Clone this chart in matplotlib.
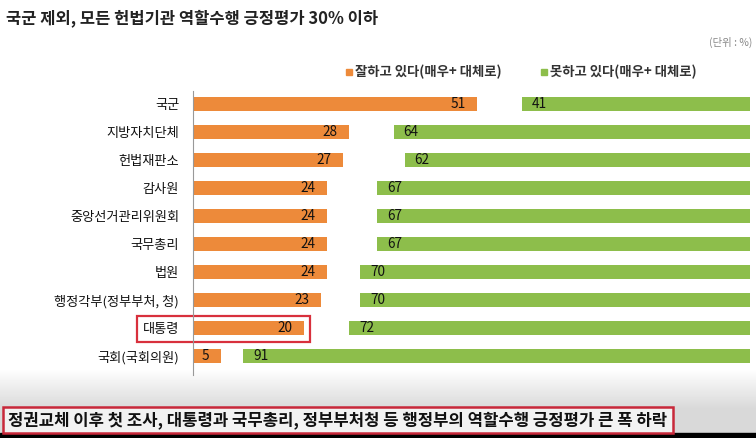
import numpy as np
import matplotlib.pyplot as plt
from matplotlib.patches import Rectangle

plt.rcParams['font.family'] = ['Noto Sans CJK KR', 'DejaVu Sans']

categories = ['국군', '지방자치단체', '헌법재판소', '감사원', '중앙선거관리위원회',
              '국무총리', '법원', '행정각부(정부부처, 청)', '대통령', '국회(국회의원)']
good = [51, 28, 27, 24, 24, 24, 24, 23, 20, 5]
bad = [41, 64, 62, 67, 67, 67, 70, 70, 72, 91]
good_label = '잘하고 있다(매우+ 대체로)'
bad_label = '못하고 있다(매우+ 대체로)'
title = '국군 제외, 모든 헌법기관 역할수행 긍정평가 30% 이하'
caption = '정권교체 이후 첫 조사, 대통령과 국무총리, 정부부처청 등 행정부의 역할수행 긍정평가 큰 폭 하락'

W, H = 756, 438
orange = '#ED8A3A'
green = '#8DBE4B'

fig = plt.figure(figsize=(W / 100, H / 100), dpi=100)

# background with grey fade at the bottom
bg = fig.add_axes([0, 0, 1, 1])
grad = np.ones((H, 1))
fade = np.clip((np.arange(H) - 368) / (408 - 368), 0, 1)
grad[:, 0] = 1 - 0.15 * fade
bg.imshow(grad, cmap='gray', vmin=0, vmax=1, aspect='auto', extent=[0, W, H, 0])
bg.set_xlim(0, W)
bg.set_ylim(H, 0)
bg.axis('off')
bg.add_patch(Rectangle((0, 433), W, 6, color='black', zorder=2))
bg.add_patch(Rectangle((3, 407), 670, 26, facecolor='#f2f2f2', edgecolor='#c8283a',
                       lw=1.8, zorder=3))
bg.text(8, 420, caption, fontsize=12, fontweight='bold', va='center', ha='left',
        color='#111111', zorder=4)
bg.text(6, 18, title, fontsize=11.9, fontweight='bold', va='center', ha='left',
        color='#222222')
bg.text(752, 42, '(단위 : %)', fontsize=7.5, va='center', ha='right', color='#888888')

# legend
bg.add_patch(Rectangle((346, 69), 6, 6, color=orange))
bg.text(355, 72, good_label, fontsize=9.6, fontweight='bold', va='center', color='#333333')
bg.add_patch(Rectangle((541, 69), 6, 6, color=green))
bg.text(550, 72, bad_label, fontsize=9.6, fontweight='bold', va='center', color='#333333')

# highlight box
bg.add_patch(Rectangle((137, 316), 173, 26, fill=False, edgecolor='#d8303c', lw=1.6, zorder=5))

# bar chart
px = 5.57
ax_left = 193
top, bottom = 91, 375
ax = fig.add_axes([ax_left / W, 1 - bottom / H, (W - ax_left) / W, (bottom - top) / H])
ax.patch.set_alpha(0)
y = np.arange(len(categories))
full = 100
ax.barh(y, good, height=0.52, color=orange)
ax.barh(y, bad, left=[full - b for b in bad], height=0.52, color=green)
for i in range(len(categories)):
    ax.text(good[i] - 2.1, y[i], str(good[i]), ha='right', va='center', fontsize=9.8,
            color='#111111', fontweight='medium')
    ax.text(full - bad[i] + 1.8, y[i], str(bad[i]), ha='left', va='center', fontsize=9.8,
            color='#111111', fontweight='medium')

ax.set_xlim(0, (W - ax_left) / px)
ax.set_ylim((bottom - 104) / 28, (top - 104) / 28)
ax.set_yticks(y)
ax.set_yticklabels(categories, fontsize=9.5, color='#111111', fontweight='medium')
ax.tick_params(axis='y', length=0, pad=10)
ax.set_xticks([])
for s in ['top', 'right', 'bottom']:
    ax.spines[s].set_visible(False)
ax.spines['left'].set_color('#999999')
ax.spines['left'].set_linewidth(0.8)

fig.savefig('out.png', dpi=100)
